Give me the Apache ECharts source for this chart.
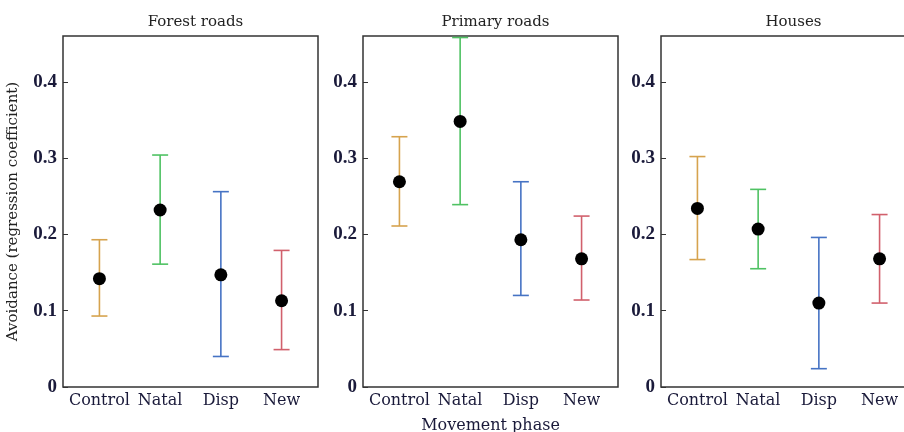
<!DOCTYPE html>
<html>
<head>
<meta charset="utf-8">
<script src="https://cdn.jsdelivr.net/npm/echarts@6/dist/echarts.min.js"></script>
<style>
	html, body { margin: 0; padding: 0; background: #fff; }
	#chart { width: 904px; height: 432px; }
</style>
</head>
<body>
<div id="chart"></div>
<script>
const phases = ['Control', 'Natal', 'Disp', 'New']
const phaseColors = ['#D6A34E', '#4FC263', '#4673C4', '#D1606C']
const panelTitles = ['Forest roads', 'Primary roads', 'Houses']

// estimate, lower, upper per phase
const forestMean = [0.142, 0.232, 0.147, 0.113]
const forestLow = [0.093, 0.161, 0.040, 0.049]
const forestHigh = [0.193, 0.304, 0.256, 0.179]

const primaryMean = [0.269, 0.348, 0.193, 0.168]
const primaryLow = [0.211, 0.239, 0.120, 0.114]
const primaryHigh = [0.328, 0.458, 0.269, 0.224]

const housesMean = [0.234, 0.207, 0.110, 0.168]
const housesLow = [0.167, 0.155, 0.024, 0.110]
const housesHigh = [0.302, 0.259, 0.196, 0.226]

const yTicks = [0, 0.1, 0.2, 0.3, 0.4]

const panels = [
	{ mean: forestMean, low: forestLow, high: forestHigh },
	{ mean: primaryMean, low: primaryLow, high: primaryHigh },
	{ mean: housesMean, low: housesLow, high: housesHigh },
]

const font = 'DejaVu Serif'
const gridLefts = [63, 363, 661]
const gridWidth = 255

const myChart = echarts.init(document.getElementById('chart'), null, { renderer: 'canvas' })

let grids = []
let xAxes = []
let yAxes = []
let series = []
let titles = []

panels.forEach((p, i) => {
	grids.push({
		left: gridLefts[i],
		width: gridWidth,
		top: 36,
		height: 351,
		containLabel: false,
		outerBoundsMode: 'none',
		show: true,
		borderColor: '#333',
		borderWidth: 1.5,
		backgroundColor: 'transparent',
	})
	titles.push({
		text: panelTitles[i],
		left: gridLefts[i] + gridWidth / 2,
		textAlign: 'center',
		top: 10,
		textStyle: { fontFamily: font, fontSize: 15, fontWeight: 'normal', color: '#222' },
	})
	xAxes.push({
		type: 'value',
		gridIndex: i,
		min: 0.4,
		max: 4.6,
		splitLine: { show: false },
		axisLine: { show: false },
		axisTick: { show: false },
		axisLabel: {
			customValues: [1, 2, 3, 4],
			formatter: (v) => phases[Math.round(v) - 1],
			fontFamily: font,
			fontSize: 16,
			color: '#1a1a3a',
			margin: 6,
		},
		name: i === 1 ? 'Movement phase' : '',
		nameLocation: 'middle',
		nameGap: 31,
		nameTextStyle: { fontFamily: font, fontSize: 16, color: '#1a1a3a' },
	})
	yAxes.push({
		type: 'value',
		gridIndex: i,
		min: 0,
		max: 0.46,
		interval: 0.1,
		splitLine: { show: false },
		axisLine: { show: false },
		axisTick: { show: true, inside: true, length: 5, lineStyle: { color: '#333' }, customValues: yTicks },
		axisLabel: {
			customValues: yTicks,
			formatter: (v) => (v === 0 ? '0' : v.toFixed(1)),
			fontFamily: 'Liberation Serif',
			fontSize: 19,
			fontWeight: 'bold',
			color: '#1a1a3a',
			margin: 6,
		},
		name: i === 0 ? 'Avoidance (regression coefficient)' : '',
		nameLocation: 'middle',
		nameGap: 42,
		nameTextStyle: { fontFamily: font, fontSize: 15, color: '#222' },
	})
	series.push({
		type: 'custom',
		xAxisIndex: i,
		yAxisIndex: i,
		data: phases.map((ph, k) => [k + 1, p.low[k], p.high[k]]),
		renderItem: (params, api) => {
			const x = api.value(0)
			const lo = api.coord([x, api.value(1)])
			const hi = api.coord([x, api.value(2)])
			const half = 8
			const style = { stroke: phaseColors[params.dataIndex], lineWidth: 1.6 }
			return {
				type: 'group',
				children: [
					{ type: 'line', shape: { x1: lo[0], y1: lo[1], x2: hi[0], y2: hi[1] }, style },
					{ type: 'line', shape: { x1: hi[0] - half, y1: hi[1], x2: hi[0] + half, y2: hi[1] }, style },
					{ type: 'line', shape: { x1: lo[0] - half, y1: lo[1], x2: lo[0] + half, y2: lo[1] }, style },
				],
			}
		},
		z: 2,
	})
	series.push({
		type: 'scatter',
		xAxisIndex: i,
		yAxisIndex: i,
		symbolSize: 13,
		itemStyle: { color: '#000', opacity: 1 },
		data: p.mean.map((v, k) => [k + 1, v]),
		z: 3,
	})
})

let option = {
	animation: false,
	backgroundColor: '#fff',
	title: titles,
	grid: grids,
	xAxis: xAxes,
	yAxis: yAxes,
	series: series,
}
myChart.setOption(option)

window.addEventListener('resize', () => {
	myChart.resize()
})
</script>
</body>
</html>
